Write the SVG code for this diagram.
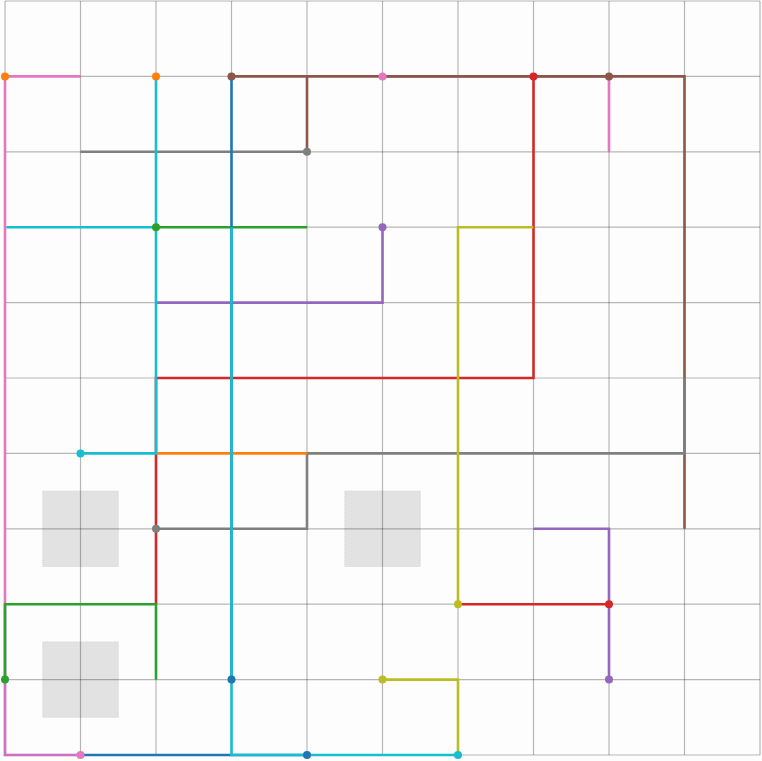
<svg xmlns="http://www.w3.org/2000/svg" width="762" height="761" viewBox="0 0 762 761">
<style>
.grid line{stroke:#000;stroke-opacity:0.28;stroke-width:1.2}
.node rect{fill:#e2e2e2;stroke:#d4d4d4;stroke-width:1;stroke-dasharray:1 1}
.e{fill:none;stroke-width:2.6;stroke-linecap:butt;stroke-linejoin:miter}
.blue{stroke:#1f77b4}.orange{stroke:#ff7f0e}.green{stroke:#2ca02c}.red{stroke:#d62728}.purple{stroke:#9467bd}.brown{stroke:#8c564b}.pink{stroke:#e377c2}.gray{stroke:#7f7f7f}.olive{stroke:#bcbd22}.cyan{stroke:#17becf}
.d{stroke:none}
</style>
<rect width="762" height="761" fill="#fcfdfc"/>
<g id="node-a" class="node"><rect x="42.8" y="491.1" width="75.5" height="75.4"/></g>
<g id="node-b" class="node"><rect x="42.8" y="641.9" width="75.5" height="75.4"/></g>
<g id="node-c" class="node"><rect x="344.8" y="491.1" width="75.5" height="75.4"/></g>
<g class="grid">
<line x1="5" y1="1" x2="5" y2="755"/><line x1="80.5" y1="1" x2="80.5" y2="755"/><line x1="156" y1="1" x2="156" y2="755"/><line x1="231.5" y1="1" x2="231.5" y2="755"/><line x1="307" y1="1" x2="307" y2="755"/><line x1="382.5" y1="1" x2="382.5" y2="755"/><line x1="458" y1="1" x2="458" y2="755"/><line x1="533.5" y1="1" x2="533.5" y2="755"/><line x1="609" y1="1" x2="609" y2="755"/><line x1="684.5" y1="1" x2="684.5" y2="755"/><line x1="760" y1="1" x2="760" y2="755"/>
<line x1="5" y1="1" x2="760" y2="1"/><line x1="5" y1="76.4" x2="760" y2="76.4"/><line x1="5" y1="151.8" x2="760" y2="151.8"/><line x1="5" y1="227.2" x2="760" y2="227.2"/><line x1="5" y1="302.6" x2="760" y2="302.6"/><line x1="5" y1="378" x2="760" y2="378"/><line x1="5" y1="453.4" x2="760" y2="453.4"/><line x1="5" y1="528.8" x2="760" y2="528.8"/><line x1="5" y1="604.2" x2="760" y2="604.2"/><line x1="5" y1="679.6" x2="760" y2="679.6"/><line x1="5" y1="755" x2="760" y2="755"/>
</g>
<g id="connectors">
<path class="e pink" d="M80.5,76.4 H5 V755 H80.5"/>
<path class="e purple" d="M5,610 V755 H80.5" stroke-opacity="0.28"/>
<path class="e pink" d="M382.5,76.4 H609 V151.8"/>
<path class="e brown" d="M231.5,76.4 H684.5 V528.8"/>
<path class="e brown" d="M307,76.4 V151.8"/>
<path class="e red" d="M533.5,76.4 V378 H156 V604.2"/>
<path class="e red" d="M458,604.2 H609"/>
<path class="e purple" d="M382.5,227.2 V302.6 H156"/>
<path class="e purple" d="M609,679.6 V528.8 H533.5"/>
<path class="e green" d="M156,227.2 H307"/>
<path class="e green" d="M5,679.6 V604.2 H156 V679.6"/>
<path class="e gray" d="M80.5,151.8 H307"/>
<path class="e gray" d="M156,528.8 H307 V453.4 H684.5 V378"/>
<path class="e orange" d="M156,453.4 H307"/>
<path class="e olive" d="M533.5,227.2 H458 V604.2"/>
<path class="e olive" d="M382.5,679.6 H458 V755"/>
<path class="e blue" d="M231.5,76.4 V679.6"/>
<path class="e blue" d="M80.5,755 H307"/>
<path class="e cyan" d="M156,76.4 V453.4 H80.5"/>
<path class="e cyan" d="M6.5,227.2 H156"/>
<path class="e cyan" d="M231.5,227.2 V755 H458"/>
</g>
<g id="ports">
<circle cx="5" cy="76.4" r="4" fill="#ff7f0e"/><circle cx="156" cy="76.4" r="4" fill="#ff7f0e"/>
<circle cx="231.5" cy="76.4" r="4" fill="#8c564b"/><circle cx="609" cy="76.4" r="4" fill="#8c564b"/>
<circle cx="382.5" cy="76.4" r="4" fill="#e377c2"/><circle cx="80.5" cy="755" r="4" fill="#e377c2"/>
<circle cx="533.5" cy="76.4" r="4" fill="#d62728"/><circle cx="609" cy="604.2" r="4" fill="#d62728"/>
<circle cx="307" cy="151.8" r="4" fill="#7f7f7f"/><circle cx="156" cy="528.8" r="4" fill="#7f7f7f"/>
<circle cx="156" cy="227.2" r="4" fill="#2ca02c"/><circle cx="5" cy="679.6" r="4" fill="#2ca02c"/>
<circle cx="382.5" cy="227.2" r="4" fill="#9467bd"/><circle cx="609" cy="679.6" r="4" fill="#9467bd"/>
<circle cx="80.5" cy="453.4" r="4" fill="#17becf"/><circle cx="458" cy="755" r="4" fill="#17becf"/>
<circle cx="458" cy="604.2" r="4" fill="#bcbd22"/><circle cx="382.5" cy="679.6" r="4" fill="#bcbd22"/>
<circle cx="231.5" cy="679.6" r="4" fill="#1f77b4"/><circle cx="307" cy="755" r="4" fill="#1f77b4"/>
</g>
</svg>
